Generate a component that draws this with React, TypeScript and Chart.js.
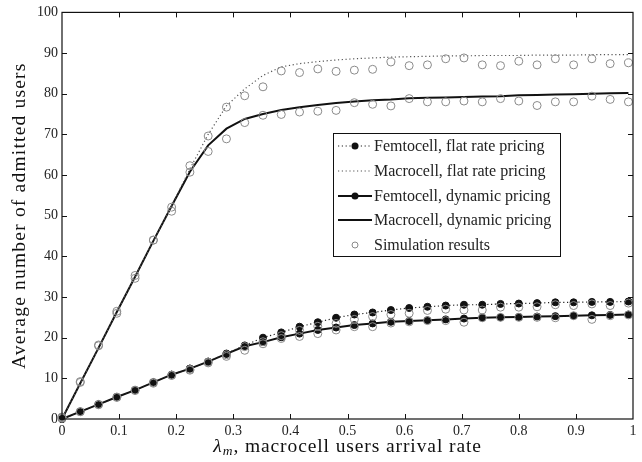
import React, { useEffect, useRef } from "react";
import { Chart, registerables } from "chart.js";

Chart.register(...registerables);

const xValues = [0, 0.032, 0.064, 0.096, 0.128, 0.16, 0.192, 0.224, 0.256, 0.288, 0.32, 0.352, 0.384, 0.416, 0.448, 0.48, 0.512, 0.544, 0.576, 0.608, 0.64, 0.672, 0.704, 0.736, 0.768, 0.8, 0.832, 0.864, 0.896, 0.928, 0.96, 0.992];

const macroFlat = [0, 8.8, 17.5, 26.3, 35.0, 43.8, 52.4, 61.5, 70.0, 77.0, 81.2, 84.5, 86.6, 87.4, 87.9, 88.3, 88.6, 88.8, 89.0, 89.1, 89.2, 89.3, 89.3, 89.4, 89.4, 89.4, 89.5, 89.5, 89.5, 89.6, 89.6, 89.6];
const macroDyn = [0, 8.8, 17.5, 26.3, 35.0, 43.8, 52.4, 60.8, 67.3, 71.4, 73.8, 75.0, 76.0, 76.7, 77.2, 77.7, 78.1, 78.4, 78.6, 78.9, 79.0, 79.1, 79.2, 79.3, 79.4, 79.6, 79.7, 79.8, 79.9, 80.0, 80.1, 80.2];
const femtoFlat = [0, 1.8, 3.6, 5.4, 7.1, 9.0, 10.9, 12.4, 14.1, 16.1, 18.1, 20.0, 21.3, 22.7, 23.8, 24.9, 25.7, 26.2, 26.8, 27.3, 27.6, 27.9, 28.1, 28.1, 28.3, 28.4, 28.5, 28.7, 28.7, 28.8, 28.8, 28.9];
const femtoDyn = [0, 1.8, 3.6, 5.4, 7.1, 9.0, 10.9, 12.4, 14.1, 16.0, 17.9, 18.9, 20.1, 21.0, 21.9, 22.5, 23.1, 23.5, 23.9, 24.1, 24.3, 24.5, 24.7, 24.9, 25.0, 25.1, 25.2, 25.3, 25.4, 25.5, 25.6, 25.7];

const simMacroFlat = [0.5, 9.2, 18.2, 26.5, 35.3, 44.0, 52.1, 62.3, 69.6, 76.7, 79.5, 81.7, 85.6, 85.2, 86.1, 85.5, 85.8, 86.0, 87.8, 86.9, 87.1, 88.6, 88.8, 87.1, 86.9, 88.0, 87.1, 88.6, 87.1, 88.6, 87.4, 87.6];
const simMacroDyn = [0.3, 9.0, 18.0, 26.0, 34.6, 44.0, 51.1, 60.7, 65.8, 68.9, 72.9, 74.7, 74.9, 75.5, 75.7, 75.9, 77.8, 77.4, 77.0, 78.8, 78.0, 78.0, 78.2, 78.0, 78.8, 78.2, 77.1, 78.0, 78.0, 79.4, 78.6, 78.0];
const simFemtoFlat = [0.3, 1.8, 3.6, 5.4, 7.1, 9.0, 10.8, 12.2, 14.0, 15.8, 17.8, 19.0, 20.5, 21.8, 22.8, 23.5, 24.5, 25.2, 25.7, 26.0, 26.7, 27.0, 26.8, 26.8, 27.5, 27.5, 27.6, 28.1, 27.9, 28.3, 27.9, 28.5];
const simFemtoDyn = [0.2, 1.8, 3.5, 5.3, 7.0, 8.8, 10.7, 12.0, 13.8, 15.4, 16.9, 18.5, 19.8, 20.3, 21.0, 21.9, 22.7, 22.7, 23.6, 23.9, 24.2, 24.2, 23.8, 24.9, 25.0, 25.0, 25.0, 24.9, 25.4, 24.5, 25.4, 25.6];

const xTickLabels = ["0", "0.1", "0.2", "0.3", "0.4", "0.5", "0.6", "0.7", "0.8", "0.9", "1"];
const yTickLabels = ["0", "10", "20", "30", "40", "50", "60", "70", "80", "90", "100"];

const legendLabels = [
  "Femtocell, flat rate pricing",
  "Macrocell, flat rate pricing",
  "Femtocell, dynamic pricing",
  "Macrocell, dynamic pricing",
  "Simulation results",
];

const SERIF = "'Liberation Serif', 'DejaVu Serif', serif";

const pts = (arr: number[]) => xValues.map((x, i) => ({ x, y: arr[i] }));

const simStyle = {
  showLine: false,
  pointRadius: 4,
  pointBorderColor: "#8a8a8a",
  pointBackgroundColor: "rgba(0,0,0,0)",
  pointBorderWidth: 1,
  borderColor: "#8a8a8a",
  order: 0,
  clip: false as const,
};

const decorPlugin = {
  id: "decor",
  afterDraw(chart: any) {
    const ctx = chart.ctx as any;
    const a = chart.chartArea;
    const xs = chart.scales.x;
    const ys = chart.scales.y;
    ctx.save();
    ctx.strokeStyle = "#111";
    ctx.lineWidth = 1.2;
    ctx.setLineDash([]);
    ctx.strokeRect(a.left, a.top, a.right - a.left, a.bottom - a.top);
    ctx.lineWidth = 1;
    ctx.beginPath();
    for (let i = 1; i < xTickLabels.length - 1; i++) {
      const px = Math.round(xs.getPixelForValue(i / 10)) + 0.5;
      ctx.moveTo(px, a.bottom);
      ctx.lineTo(px, a.bottom - 5);
      ctx.moveTo(px, a.top);
      ctx.lineTo(px, a.top + 5);
    }
    for (let i = 1; i < yTickLabels.length - 1; i++) {
      const py = Math.round(ys.getPixelForValue(i * 10)) + 0.5;
      ctx.moveTo(a.left, py);
      ctx.lineTo(a.left + 5, py);
      ctx.moveTo(a.right, py);
      ctx.lineTo(a.right - 5, py);
    }
    ctx.stroke();

    // legend
    const bx = 333.5, by = 133.5, bw = 227, bh = 123;
    ctx.fillStyle = "#fff";
    ctx.fillRect(bx, by, bw, bh);
    ctx.strokeStyle = "#111";
    ctx.lineWidth = 1;
    ctx.strokeRect(bx, by, bw, bh);
    const rows = [146, 171, 196, 220, 245];
    const sx0 = 338, sx1 = 372, mx = 355;
    rows.forEach((ry, i) => {
      ctx.save();
      if (i === 0 || i === 1) {
        ctx.strokeStyle = i === 0 ? "#222" : "#555";
        ctx.lineWidth = 1.2;
        ctx.setLineDash([1.2, 2.6]);
        ctx.beginPath();
        ctx.moveTo(sx0, ry);
        ctx.lineTo(sx1, ry);
        ctx.stroke();
      } else if (i === 2 || i === 3) {
        ctx.strokeStyle = "#111";
        ctx.lineWidth = 2;
        ctx.setLineDash([]);
        ctx.beginPath();
        ctx.moveTo(sx0, ry);
        ctx.lineTo(sx1, ry);
        ctx.stroke();
      }
      ctx.setLineDash([]);
      if (i === 0 || i === 2) {
        ctx.fillStyle = "#111";
        ctx.beginPath();
        ctx.arc(mx, ry, 3.5, 0, Math.PI * 2);
        ctx.fill();
      }
      if (i === 4) {
        ctx.strokeStyle = "#8a8a8a";
        ctx.lineWidth = 1;
        ctx.beginPath();
        ctx.arc(mx, ry, 3, 0, Math.PI * 2);
        ctx.stroke();
      }
      ctx.restore();
      ctx.fillStyle = "#222";
      ctx.font = `16px ${SERIF}`;
      ctx.textAlign = "left";
      ctx.textBaseline = "middle";
      ctx.fillText(legendLabels[i], 374, ry + 1);
    });

    // x title with subscript
    const cx = (a.left + a.right) / 2;
    const ty = 447;
    const bigFont = `19.5px ${SERIF}`;
    const itFont = `italic 19.5px ${SERIF}`;
    const subFont = `italic 13.5px ${SERIF}`;
    const rest = ", macrocell users arrival rate";
    ctx.letterSpacing = "0px";
    ctx.font = itFont;
    const wL = ctx.measureText("λ").width + 1;
    ctx.font = subFont;
    const wM = ctx.measureText("m").width + 1;
    ctx.font = bigFont;
    ctx.letterSpacing = "0.9px";
    const wR = ctx.measureText(rest).width;
    let x0 = cx - (wL + wM + wR) / 2;
    ctx.fillStyle = "#111";
    ctx.textAlign = "left";
    ctx.textBaseline = "middle";
    ctx.letterSpacing = "0px";
    ctx.font = itFont;
    ctx.fillText("λ", x0, ty);
    x0 += wL;
    ctx.font = subFont;
    ctx.fillText("m", x0, ty + 4);
    x0 += wM;
    ctx.font = bigFont;
    ctx.letterSpacing = "0.9px";
    ctx.fillText(rest, x0, ty);

    // y title
    ctx.save();
    ctx.translate(20, (a.top + a.bottom) / 2);
    ctx.rotate(-Math.PI / 2);
    ctx.textAlign = "center";
    ctx.textBaseline = "middle";
    ctx.font = bigFont;
    ctx.letterSpacing = "1.2px";
    ctx.fillText("Average number of admitted users", 0, 0);
    ctx.restore();
    ctx.letterSpacing = "0px";

    ctx.restore();
  },
};

export default function App() {
  const ref = useRef<HTMLCanvasElement | null>(null);
  useEffect(() => {
    document.body.style.margin = "0";
    const canvas = ref.current;
    if (!canvas) return;
    const chart = new Chart(canvas, {
      type: "line",
      data: {
        datasets: [
          {
            label: legendLabels[0],
            data: pts(femtoFlat),
            borderColor: "#222",
            borderWidth: 1.2,
            borderDash: [1.2, 2.6],
            pointRadius: 3.5,
            pointBackgroundColor: "#111",
            pointBorderColor: "#111",
            pointBorderWidth: 1,
            tension: 0,
            order: 2,
            clip: false,
          },
          {
            label: legendLabels[1],
            data: pts(macroFlat),
            borderColor: "#555",
            borderWidth: 1.2,
            borderDash: [1.2, 2.6],
            pointRadius: 0,
            tension: 0,
            order: 3,
          },
          {
            label: legendLabels[2],
            data: pts(femtoDyn),
            borderColor: "#111",
            borderWidth: 2,
            pointRadius: 3.5,
            pointBackgroundColor: "#111",
            pointBorderColor: "#111",
            pointBorderWidth: 1,
            tension: 0,
            order: 2,
            clip: false,
          },
          {
            label: legendLabels[3],
            data: pts(macroDyn),
            borderColor: "#111",
            borderWidth: 2,
            pointRadius: 0,
            tension: 0,
            order: 3,
          },
          { label: "sim femto flat", data: pts(simFemtoFlat), ...simStyle },
          { label: "sim macro flat", data: pts(simMacroFlat), ...simStyle },
          { label: "sim femto dyn", data: pts(simFemtoDyn), ...simStyle },
          { label: "sim macro dyn", data: pts(simMacroDyn), ...simStyle },
        ],
      },
      options: {
        animation: false,
        responsive: false,
        devicePixelRatio: 1,
        layout: { padding: { top: 11, right: 9, left: 0, bottom: 0 } },
        plugins: { legend: { display: false }, tooltip: { enabled: false } },
        scales: {
          x: {
            type: "linear",
            min: 0,
            max: 1,
            grid: { display: false, drawTicks: false },
            border: { display: false },
            ticks: {
              stepSize: 0.1,
              padding: 4,
              autoSkip: false,
              maxRotation: 0,
              color: "#222",
              font: { family: SERIF, size: 14 },
              callback: (_v: any, i: number) => xTickLabels[i],
            },
            afterFit: (s: any) => {
              s.height = 43;
            },
          },
          y: {
            min: 0,
            max: 100,
            grid: { display: false, drawTicks: false },
            border: { display: false },
            ticks: {
              stepSize: 10,
              padding: 4,
              autoSkip: false,
              color: "#222",
              font: { family: SERIF, size: 14 },
              callback: (_v: any, i: number) => yTickLabels[i],
            },
            afterFit: (s: any) => {
              s.width = 62;
            },
          },
        },
      },
      plugins: [decorPlugin],
    });
    return () => chart.destroy();
  }, []);
  return <canvas ref={ref} width={642} height={462} style={{ display: "block" }} />;
}
